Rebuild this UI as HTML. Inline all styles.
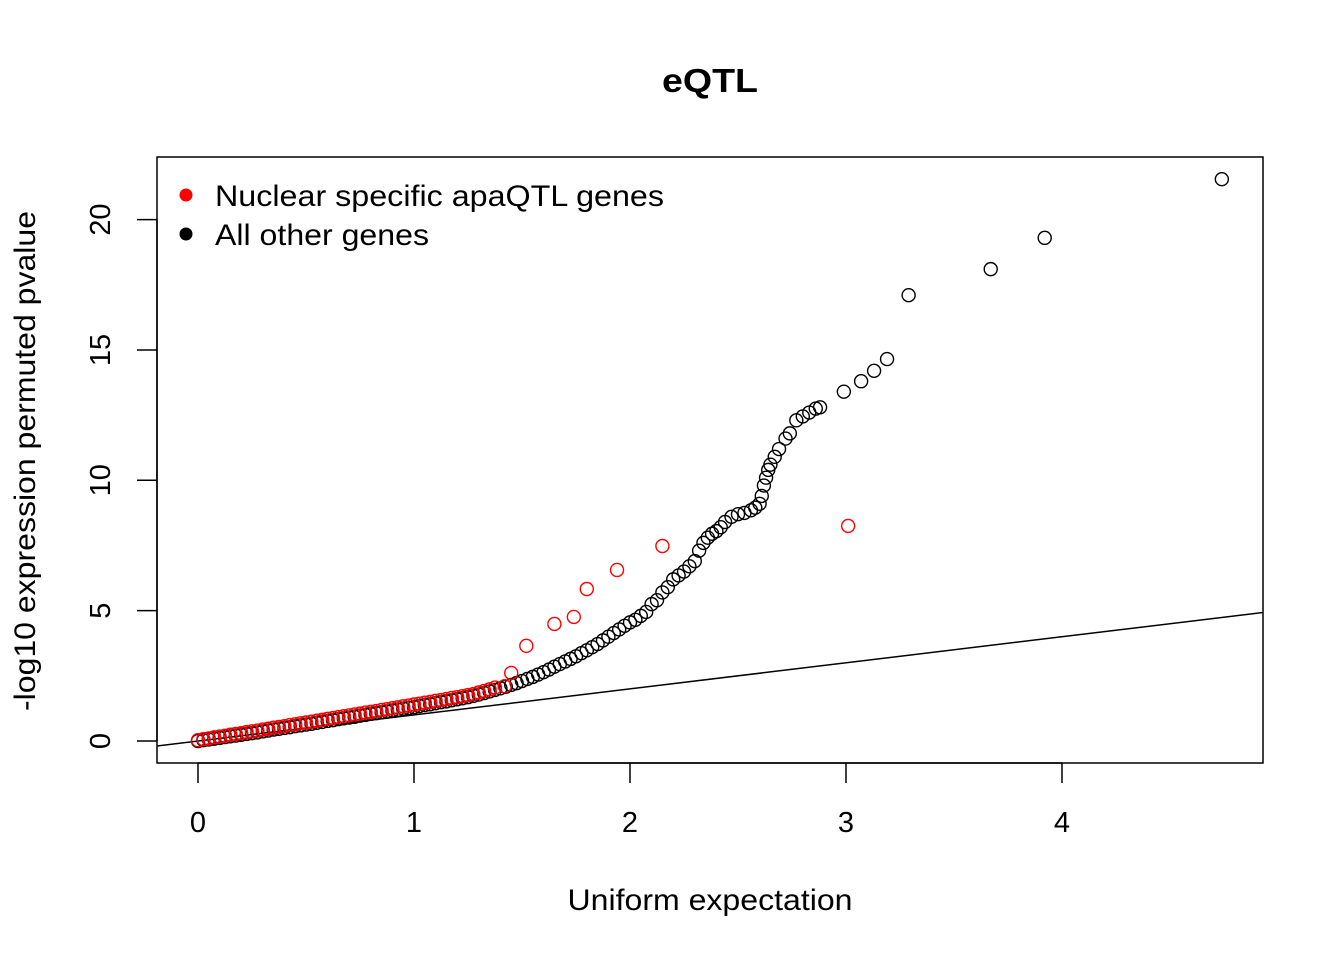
<!DOCTYPE html>
<html><head><meta charset="utf-8"><style>
html,body{margin:0;padding:0;background:#fff;}
svg{display:block;font-family:"Liberation Sans",Arial,sans-serif;}
</style></head><body>
<svg id="chart" width="1344" height="960">
<text x="710" y="92" text-anchor="middle" font-size="33" font-weight="bold" textLength="96" lengthAdjust="spacingAndGlyphs">eQTL</text>
<rect x="157" y="157" width="1106" height="606" fill="none" stroke="#000" stroke-width="1.5"/>
<g id="xaxis"></g>
<g id="yaxis"></g>
<text x="710" y="910" text-anchor="middle" font-size="30" textLength="285" lengthAdjust="spacingAndGlyphs">Uniform expectation</text>
<text transform="translate(35,461) rotate(-90)" text-anchor="middle" font-size="30" textLength="500" lengthAdjust="spacingAndGlyphs">-log10 expression permuted pvalue</text>
<clipPath id="clip"><rect x="157" y="157" width="1106" height="606"/></clipPath>
<line id="ref" clip-path="url(#clip)" stroke="#000" stroke-width="1.5"/>
<g id="pts"></g>
<g>
<circle cx="186" cy="195" r="6.5" fill="#f00"/>
<text x="215" y="206" font-size="30" textLength="449" lengthAdjust="spacingAndGlyphs">Nuclear specific apaQTL genes</text>
<circle cx="186" cy="234" r="6.5" fill="#000"/>
<text x="215" y="245" font-size="30" textLength="214" lengthAdjust="spacingAndGlyphs">All other genes</text>
</g>
</svg>
<script>
const xTicks=[0,1,2,3,4];
const yTicks=[0,5,10,15,20];
const otherX=[0,.025,.05,.075,.1,.125,.15,.175,.2,.225,.25,.275,.3,.325,.35,.375,.4,.425,.45,.475,.5,.525,.55,.575,.6,.625,.65,.675,.7,.725,.75,.775,.8,.825,.85,.875,.9,.925,.95,.975,1.0,1.025,1.05,1.075,1.1,1.125,1.15,1.175,1.2,1.225,1.25,1.275,1.3,1.325,1.35,1.375,
1.4,1.425,1.45,1.475,1.5,1.525,1.55,1.575,1.6,1.625,1.65,1.675,1.7,1.725,1.75,1.775,1.8,1.825,1.85,1.875,1.9,1.925,1.95,1.975,2.0,2.025,2.05,2.075,2.1,2.125,2.15,2.175,2.2,2.225,2.25,2.275,2.3,2.32,2.34,2.36,2.38,2.4,2.42,2.44,
2.47,2.5,2.53,2.56,2.58,2.6,2.61,2.62,2.63,2.64,2.65,2.67,2.69,2.72,2.74,2.77,2.8,2.83,2.86,2.88,2.99,3.07,3.13,3.19,3.29,3.67,3.92,4.74];
const otherY=[0,.03,.06,.09,.12,.15,.18,.21,.24,.27,.3,.33,.37,.4,.44,.47,.5,.53,.57,.6,.63,.66,.7,.73,.77,.8,.84,.87,.9,.93,.97,1.0,1.04,1.07,1.1,1.13,1.17,1.2,1.24,1.27,1.3,1.34,1.38,1.41,1.45,1.49,1.52,1.56,1.6,1.64,1.68,1.73,1.78,1.84,1.9,1.96,
2.02,2.08,2.15,2.22,2.3,2.38,2.46,2.55,2.64,2.74,2.85,2.95,3.05,3.15,3.25,3.37,3.48,3.6,3.72,3.86,4.0,4.14,4.28,4.42,4.55,4.65,4.8,4.95,5.25,5.4,5.7,5.9,6.2,6.35,6.5,6.7,6.9,7.3,7.6,7.8,7.95,8.05,8.2,8.4,
8.6,8.7,8.75,8.85,8.95,9.1,9.4,9.8,10.1,10.4,10.6,10.9,11.2,11.6,11.8,12.3,12.45,12.6,12.75,12.8,13.4,13.8,14.2,14.65,17.1,18.1,19.3,21.55];
const nucX=[0,.025,.05,.075,.1,.125,.15,.175,.2,.225,.25,.275,.3,.325,.35,.375,.4,.425,.45,.475,.5,.525,.55,.575,.6,.625,.65,.675,.7,.725,.75,.775,.8,.825,.85,.875,.9,.925,.95,.975,1.0,1.025,1.05,1.075,1.1,1.125,1.15,1.175,1.2,1.225,1.25,1.275,1.3,1.325,1.35,1.375,
1.42,1.45,1.52,1.65,1.74,1.8,1.94,2.15,3.01];
const nucY=[.03,.07,.1,.14,.17,.2,.24,.27,.3,.34,.37,.4,.44,.47,.51,.54,.57,.61,.64,.68,.71,.74,.78,.81,.85,.88,.92,.95,.98,1.02,1.05,1.09,1.12,1.15,1.19,1.22,1.26,1.29,1.33,1.36,1.4,1.43,1.47,1.5,1.54,1.57,1.61,1.65,1.68,1.72,1.76,1.8,1.86,1.92,1.98,2.05,
2.1,2.61,3.65,4.49,4.76,5.83,6.56,7.48,8.25];
const NS='http://www.w3.org/2000/svg';
const sx=v=>198+v*216, sy=v=>741-v*26.07;
const xa=document.getElementById('xaxis'), ya=document.getElementById('yaxis'), pts=document.getElementById('pts');
function mk(tag,attrs,parent){const e=document.createElementNS(NS,tag);for(const k in attrs)e.setAttribute(k,attrs[k]);parent.appendChild(e);return e;}
mk('line',{x1:sx(0),x2:sx(4),y1:763,y2:763,stroke:'#000','stroke-width':1.5},xa);
xTicks.forEach(t=>{const l=mk('line',{x1:sx(t),x2:sx(t),y1:763,y2:783,stroke:'#000','stroke-width':1.5},xa);


const tx=mk('text',{x:sx(t),y:832,'text-anchor':'middle','font-size':29},xa);tx.textContent=t;

});
mk('line',{x1:157,x2:157,y1:sy(0),y2:sy(20),stroke:'#000','stroke-width':1.5},ya);
yTicks.forEach(t=>{const l=mk('line',{x1:137,x2:157,y1:sy(t),y2:sy(t),stroke:'#000','stroke-width':1.5},ya);


const tx=mk('text',{transform:`translate(110,${sy(t)}) rotate(-90)`,'text-anchor':'middle','font-size':29},ya);tx.textContent=t;

});
const r=document.getElementById('ref');
r.setAttribute('x1',sx(-1));r.setAttribute('y1',sy(-1));r.setAttribute('x2',sx(6));r.setAttribute('y2',sy(6));
otherX.forEach((x,i)=>{const c=mk('circle',{cx:sx(x),cy:sy(otherY[i]),r:6.5,fill:'none',stroke:'#000','stroke-width':1.4},pts);

});
nucX.forEach((x,i)=>{const c=mk('circle',{cx:sx(x),cy:sy(nucY[i]),r:6.5,fill:'none',stroke:'#f00','stroke-width':1.4},pts);

});
</script>
</body></html>
